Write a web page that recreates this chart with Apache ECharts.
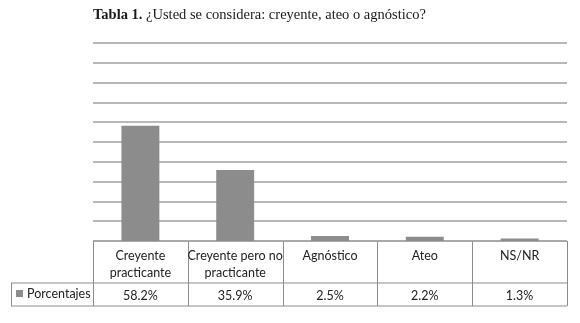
<!DOCTYPE html>
<html>
<head>
<meta charset="utf-8">
<script src="https://cdn.jsdelivr.net/npm/echarts@6/dist/echarts.min.js"></script>
<style>
  html, body { margin: 0; padding: 0; background: #fff; }
  #chart { width: 580px; height: 323px; }
</style>
</head>
<body>
<div id="chart"></div>
<script>
const categories = ['Creyente\npracticante', 'Creyente pero no\npracticante', 'Agnóstico', 'Ateo', 'NS/NR'];
const values = [58.2, 35.9, 2.5, 2.2, 1.3];
const valueLabels = ['58.2%', '35.9%', '2.5%', '2.2%', '1.3%'];
const seriesName = 'Porcentajes';

const W = 580, H = 323;
const gridLeft = 93, gridRight = 13, gridTop = 43, gridBottom = 82;
const tableFont = 'Lato, "Open Sans", sans-serif';
const tableSize = 12.5;
const lineColor = '#8c8c8c';

const chart = echarts.init(document.getElementById('chart'), null, { renderer: 'canvas' });

// table borders below the plot
const x0 = gridLeft, x1 = W - gridRight;
const yTop = H - gridBottom, yMid = yTop + 42, yBot = yMid + 23;
const step = (x1 - x0) / categories.length;
const border = [];
const hline = (xa, xb, y) => border.push({ type: 'line', silent: true, shape: { x1: xa, y1: y, x2: xb, y2: y }, style: { stroke: lineColor, lineWidth: 1 } });
const vline = (x, ya, yb) => border.push({ type: 'line', silent: true, shape: { x1: x, y1: ya, x2: x, y2: yb }, style: { stroke: lineColor, lineWidth: 1 } });
hline(x0, x1, yTop);
hline(11, x1, yMid);
hline(11, x1, yBot);
vline(11.5, yMid, yBot);
for (let i = 0; i <= categories.length; i++) vline(Math.round(x0 + i * step) + 0.5, yTop, yBot);

chart.setOption({
  animation: false,
  title: {
    left: 93,
    top: 8,
    padding: 0,
    text: '{b|Tabla 1.} ¿Usted se considera: creyente, ateo o agnóstico?',
    textStyle: {
      fontFamily: '"Liberation Serif", serif',
      fontSize: 14.5,
      fontWeight: 'normal',
      color: '#1a1a1a',
      rich: {
        b: { fontFamily: '"Liberation Serif", serif', fontSize: 14.5, fontWeight: 'bold', color: '#1a1a1a' }
      }
    }
  },
  legend: {
    left: 16,
    top: yMid + 4,
    padding: 0,
    itemWidth: 7,
    itemHeight: 7,
    itemGap: 4,
    icon: 'rect',
    textStyle: { fontFamily: tableFont, fontSize: tableSize, color: '#222', padding: [0, 0, 0, -1] },
    data: [seriesName]
  },
  grid: { left: gridLeft, right: gridRight, top: gridTop, bottom: gridBottom },
  xAxis: [
    {
      type: 'category',
      data: categories,
      axisLine: { show: false },
      axisTick: { show: false },
      axisLabel: { margin: 6, interval: 0, fontFamily: tableFont, fontSize: tableSize, lineHeight: 17, color: '#222' }
    },
    {
      type: 'category',
      position: 'bottom',
      offset: 42,
      data: valueLabels,
      axisLine: { show: false },
      axisTick: { show: false },
      axisLabel: { margin: 6, interval: 0, fontFamily: tableFont, fontSize: tableSize, color: '#222' }
    }
  ],
  yAxis: {
    type: 'value',
    min: 0,
    max: 100,
    interval: 10,
    axisLine: { show: false },
    axisTick: { show: false },
    axisLabel: { show: false },
    splitLine: { lineStyle: { color: '#a0a0a0', width: 1.5 } }
  },
  series: [
    {
      name: seriesName,
      type: 'bar',
      barWidth: '40%',
      itemStyle: { color: '#8c8c8c' },
      data: values
    }
  ],
  graphic: border
});
</script>
</body>
</html>
